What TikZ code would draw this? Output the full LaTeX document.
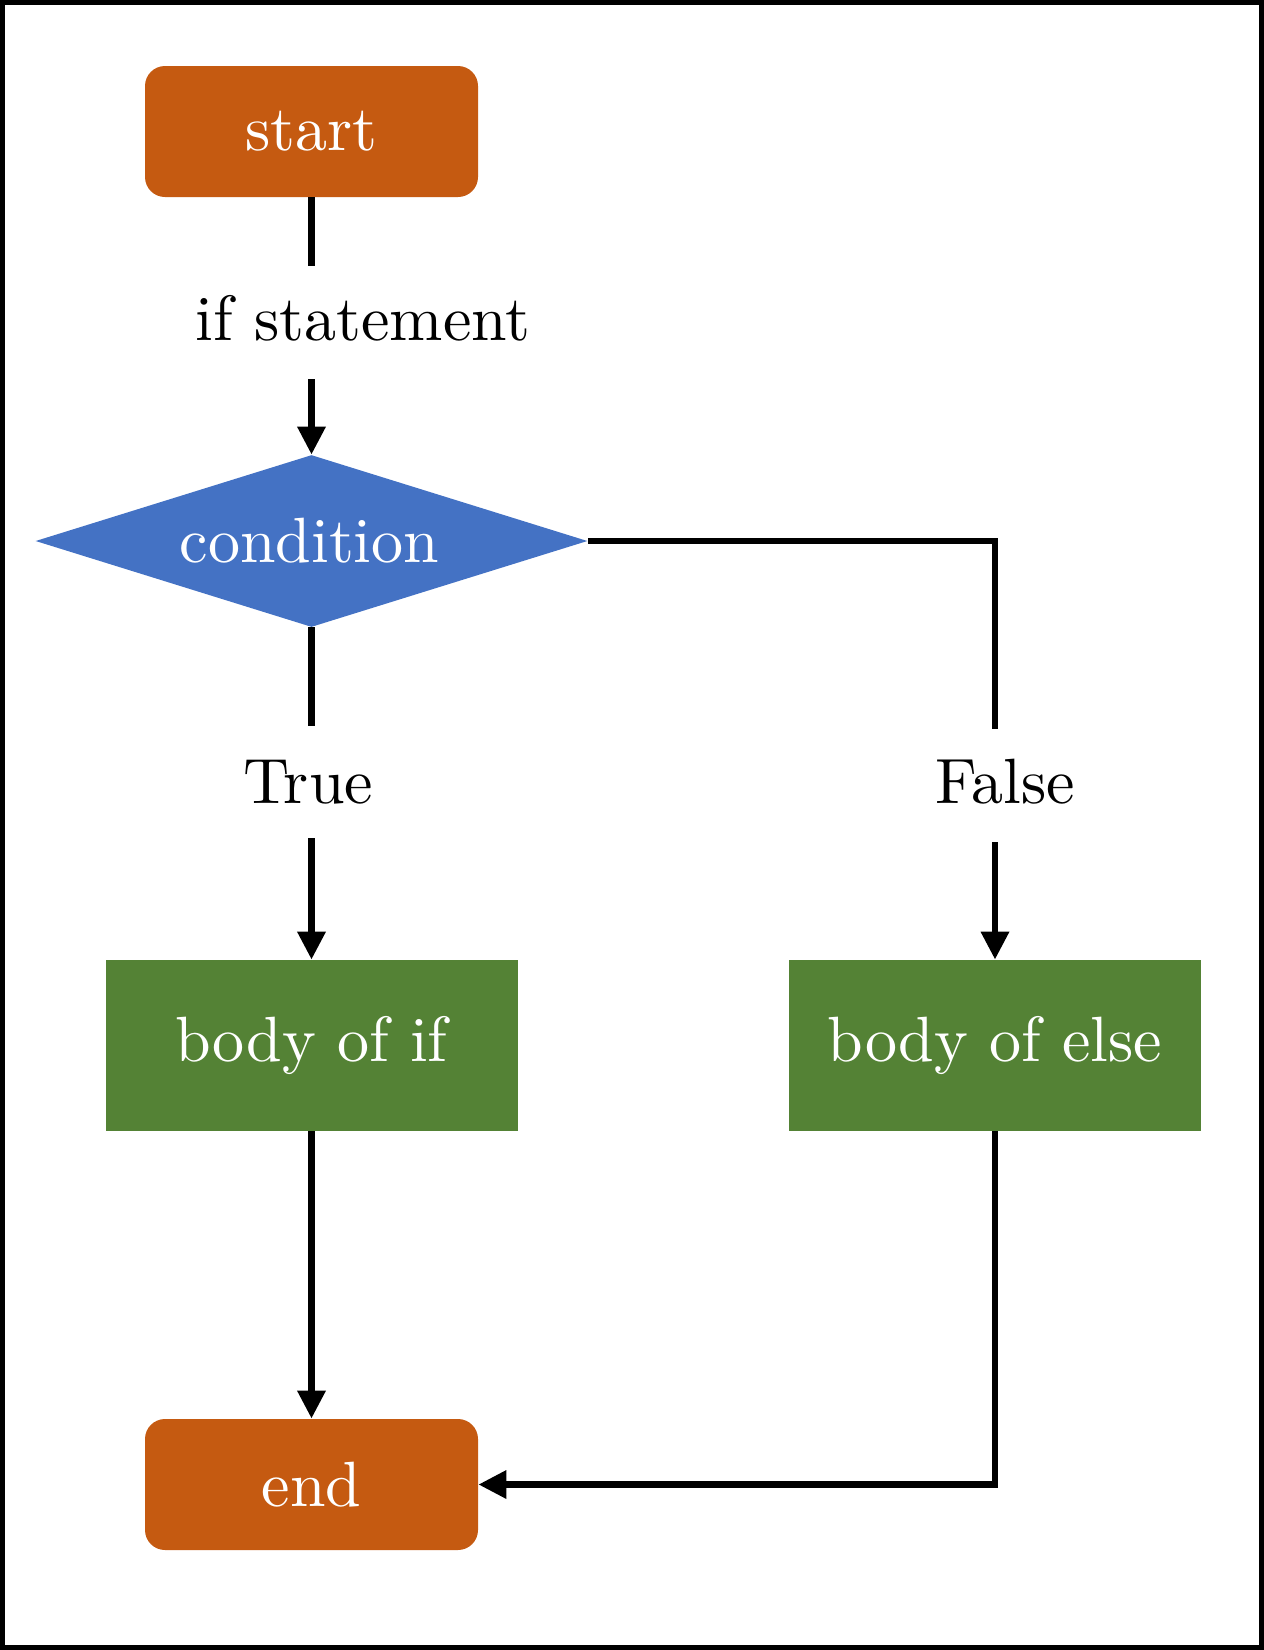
\documentclass[tikz,border=0pt]{standalone}
\usepackage{fontspec}
\setmainfont{lmroman10-regular.otf}
\usetikzlibrary{shapes.geometric,arrows.meta}
\definecolor{termc}{HTML}{C55A11}
\definecolor{condc}{HTML}{4472C4}
\definecolor{bodyc}{HTML}{548235}
\begin{document}
\begin{tikzpicture}[x=0.5pt,y=-0.5pt,
  every node/.style={font=\fontsize{32}{38}\selectfont, inner sep=0pt},
  term/.style={rounded corners=10pt, fill=termc, text=white, minimum width=166.5pt, minimum height=65.5pt},
  decis/.style={diamond, aspect=3.2, fill=condc, text=white, minimum width=276pt, minimum height=86pt},
  bodybox/.style={rectangle, fill=bodyc, text=white, minimum width=206pt, minimum height=85.5pt},
  lbl/.style={anchor=base, text=black},
  conn/.style={line width=3.25pt},
  arr/.style={line width=3.25pt, -{Triangle[length=14pt,width=13.5pt]}}
]
\useasboundingbox (0,0) rectangle (1264,1650);
\draw[line width=2.5pt] (2.5,2.5) rectangle (1261.5,1647.5);

\node[term] (start) at (311.5,131.5) {start};
\node[decis] (cond) at (311.5,541) {\hspace*{-2pt}condition};
\node[bodybox] (bif) at (311.5,1045.5) {body of if};
\node[bodybox] (belse) at (995,1045.5) {body of else};
\node[term] (end) at (311.5,1484.5) {end};

\node[lbl] (ifs) at (363,340) {if statement};
\node[lbl] (tru) at (308,803) {True};
\node[lbl] (fal) at (1005,803) {False};

\coordinate (c1) at (311.5,266);
\coordinate (c2) at (311.5,379);
\coordinate (c3) at (311.5,726);
\coordinate (c4) at (311.5,838);
\coordinate (c5) at (995,729);
\coordinate (c6) at (995,842);

\draw[conn] (start.south) -- (c1);
\draw[arr] (c2) -- (cond.north);
\draw[conn] (cond.south) -- (c3);
\draw[arr] (c4) -- (bif.north);
\draw[conn] (cond.east) -| (c5);
\draw[arr] (c6) -- (belse.north);
\draw[arr] (bif.south) -- (end.north);
\draw[arr] (belse.south) |- (end.east);
\end{tikzpicture}
\end{document}
